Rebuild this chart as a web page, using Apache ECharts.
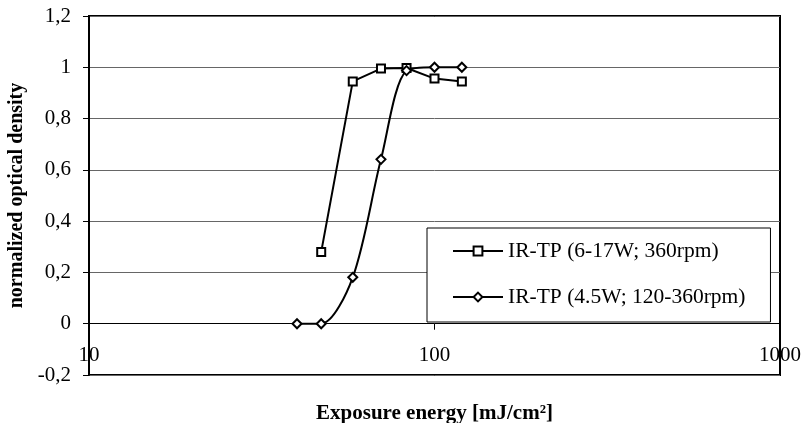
<!DOCTYPE html>
<html><head><meta charset="utf-8">
<script src="https://cdn.jsdelivr.net/npm/echarts@6/dist/echarts.min.js"></script>
<style>html,body{margin:0;padding:0;background:#fff}#c{width:801px;height:423px}</style>
</head><body><div id="c"></div>
<script>
var seriesNames = ['IR-TP (6-17W; 360rpm)', 'IR-TP (4.5W; 120-360rpm)'];
var energyA = [47, 58, 70, 83, 100, 120];
var densityA = [0.28, 0.945, 0.995, 0.997, 0.956, 0.945];
var energyB = [40, 47, 58, 70, 83, 100, 120];
var densityB = [0, 0, 0.181, 0.641, 0.987, 1.0, 1.0];
var xTicks = [10, 100, 1000];
var yTicks = [-0.2, 0, 0.2, 0.4, 0.6, 0.8, 1.0, 1.2];

function pairs(xs, ys){ return xs.map(function(x,i){return [x, ys[i]];}); }
var font = 'Liberation Serif';
var chart = echarts.init(document.getElementById('c'), null, {renderer:'canvas'});
chart.setOption({
  animation:false,
  backgroundColor:'#fff',
  textStyle:{fontFamily:font},
  grid:{left:89, right:21, top:16, bottom:48, containLabel:false, outerBoundsMode:'none',
        show:true, borderColor:'#000', borderWidth:2, backgroundColor:'transparent'},
  legend:{
    orient:'vertical', left:427, top:228,
    data:seriesNames,
    itemWidth:50, itemHeight:11, itemGap:22,
    padding:[11,25,13,25],
    borderColor:'#000', borderWidth:1, backgroundColor:'#fff', borderRadius:0,
    textStyle:{fontFamily:font, fontSize:21.5, color:'#000', lineHeight:24}
  },
  xAxis:{
    type:'log', logBase:10, min:xTicks[0], max:xTicks[xTicks.length-1],
    name:'Exposure energy [mJ/cm²]', nameLocation:'middle', nameGap:28,
    nameTextStyle:{fontFamily:font, fontSize:21, fontWeight:'bold', color:'#000'},
    axisLine:{onZero:true, lineStyle:{color:'#000', width:1}},
    axisTick:{show:true, length:6, lineStyle:{color:'#000'}},
    axisLabel:{margin:-30, fontFamily:font, fontSize:21, color:'#000',
      formatter:function(v){return String(v);}},
    splitLine:{show:false}, minorTick:{show:false}
  },
  yAxis:{
    type:'value', min:yTicks[0], max:yTicks[yTicks.length-1], interval:0.2,
    name:'normalized optical density', nameLocation:'middle', nameGap:61,
    nameTextStyle:{fontFamily:font, fontSize:20, fontWeight:'bold', color:'#000'},
    axisLine:{show:true, lineStyle:{color:'#000', width:2}},
    axisTick:{show:true, length:6, lineStyle:{color:'#000'}},
    axisLabel:{margin:18, fontFamily:font, fontSize:21, color:'#000',
      formatter:function(v){return String(+v.toFixed(1)).replace('.', ',');}},
    splitLine:{show:true, lineStyle:{color:'#666', width:1}}
  },
  series:[
    {name:seriesNames[0], type:'line', data:pairs(energyA, densityA), smooth:false,
     symbol:'rect', symbolSize:8, showAllSymbol:true,
     lineStyle:{color:'#000', width:2}, itemStyle:{color:'#fff', borderColor:'#000', borderWidth:2}},
    {name:seriesNames[1], type:'line', data:pairs(energyB, densityB), smooth:0.3,
     symbol:'diamond', symbolSize:[9,9], showAllSymbol:true,
     lineStyle:{color:'#000', width:2}, itemStyle:{color:'#fff', borderColor:'#000', borderWidth:2}}
  ]
});
</script></body></html>
